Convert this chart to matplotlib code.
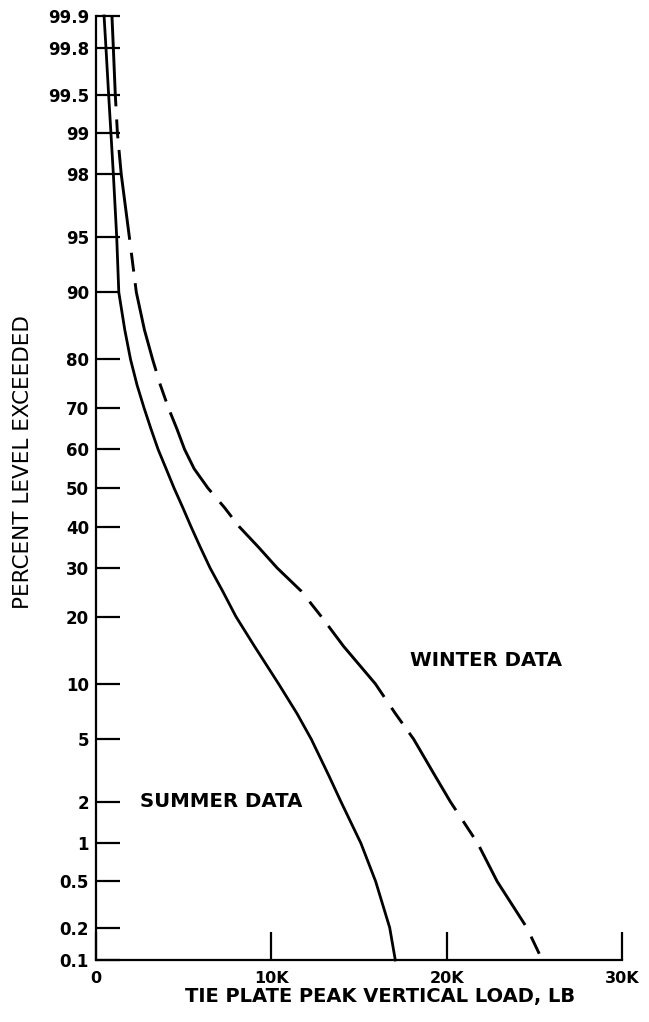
#!/usr/bin/env python

import math
import numpy as np
import matplotlib
matplotlib.use('Agg')
import matplotlib.pyplot as plt
from matplotlib.ticker import NullLocator

# Percent level exceeded (normal probability scale) and the loads.
pct_levels = [99.9, 99.8, 99.5, 99, 98, 95, 90, 85, 80, 75, 70, 65, 60, 55, 50,
              45, 40, 35, 30, 25, 20, 15, 10, 7, 5, 3, 2, 1, 0.5, 0.2, 0.1]
summer_load = [460, 570, 720, 850, 990, 1180, 1300, 1640, 1970, 2340, 2740,
               3140, 3540, 4000, 4450, 4940, 5420, 5940, 6510, 7220, 7980,
               9040, 10410, 11460, 12280, 13270, 13970, 15110, 15950, 16750, 17070]
winter_load = [910, 990, 1100, 1220, 1440, 1900, 2300, 2760, 3230, 3670, 4130,
               4620, 5050, 5600, 6380, 7310, 8170, 9250, 10340, 11700, 12850,
               14120, 15930, 17070, 18120, 19320, 20210, 21770, 22880, 24570, 25450]

y_ticks = [0.1, 0.2, 0.5, 1, 2, 5, 10, 20, 30, 40, 50, 60, 70, 80, 90,
           95, 98, 99, 99.5, 99.8, 99.9]
y_tick_labels = ['0.1', '0.2', '0.5', '1', '2', '5', '10', '20', '30', '40', '50',
                 '60', '70', '80', '90', '95', '98', '99', '99.5', '99.8', '99.9']
x_ticks = [0, 10000, 20000, 30000]
x_tick_labels = ['0', '10K', '20K', '30K']

# Lookup table for the normal probability axis.
z_grid = np.linspace(-5.0, 5.0, 4001)
p_grid = 100.0 * np.array([0.5 * math.erfc(-z / math.sqrt(2.0)) for z in z_grid])

def prob_forward(p):
    return np.interp(p, p_grid, z_grid)

def prob_inverse(z):
    return np.interp(z, z_grid, p_grid)


def main():
    plt.rcParams['font.family'] = ['DejaVu Sans']
    plt.rcParams['font.weight'] = 'bold'

    fig = plt.figure(figsize=(6.49, 10.22), dpi=100)
    ax = fig.add_axes([96/649, 62/1022, (622-96)/649, (960-16)/1022])

    ax.set_yscale('function', functions=(prob_forward, prob_inverse))
    ax.set_xlim(0, 30000)
    ax.set_ylim(0.1, 99.9)

    # Curves: summer solid, winter long dash with short breaks.
    ax.plot(summer_load, pct_levels, color='black', lw=2.0,
            solid_joinstyle='round', clip_on=False)
    ax.plot(winter_load, pct_levels, color='black', lw=2.1,
            ls=(0, (31, 4.5, 6.5, 4)), dash_joinstyle='round', clip_on=False)

    ax.text(17900, 13, 'WINTER DATA', fontsize=14.2, fontweight='bold',
            ha='left', va='center')
    ax.text(2500, 2, 'SUMMER DATA', fontsize=14.2, fontweight='bold',
            ha='left', va='center')

    # Axes styling.
    for side in ['top', 'right']:
        ax.spines[side].set_visible(False)
    for side in ['left', 'bottom']:
        ax.spines[side].set_linewidth(1.6)

    ax.set_yticks(y_ticks)
    ax.set_yticklabels(y_tick_labels)
    ax.yaxis.set_minor_locator(NullLocator())
    ax.set_xticks(x_ticks)
    ax.set_xticklabels(x_tick_labels)
    ax.tick_params(axis='y', direction='in', length=17, width=1.6,
                   labelsize=12, pad=5)
    ax.tick_params(axis='x', direction='in', length=20, width=1.6,
                   labelsize=11.5, pad=8)

    ax.set_ylabel('PERCENT LEVEL EXCEEDED', fontsize=15.5, fontweight='normal')
    ax.yaxis.set_label_coords(-0.12, 0.528)
    ax.set_xlabel('TIE PLATE PEAK VERTICAL LOAD, LB', fontsize=14,
                  fontweight='bold')
    ax.xaxis.set_label_coords(0.54, -0.029)

    fig.savefig('out.png', dpi=100)


if __name__ == '__main__':
    main()
